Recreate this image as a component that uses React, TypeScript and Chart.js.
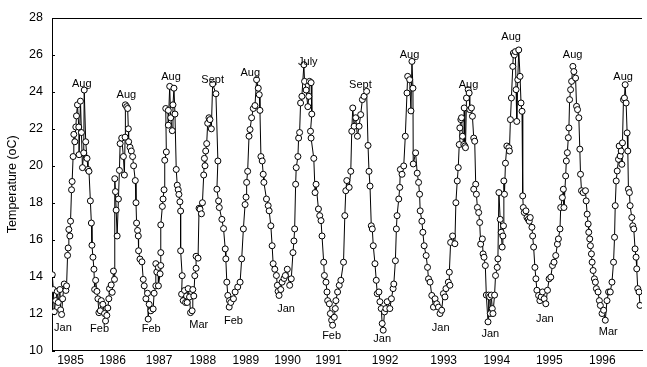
import React, { useEffect, useRef } from "react";
import { Chart, registerables } from "chart.js";

Chart.register(...registerables);

// Sampling-time index (horizontal axis units) and temperature (oC) per season
const season1985: [number, number][] = [
  [52.3, 14.1], [53.3, 13.3], [54.3, 12.1], [55.7, 12.7], [57.3, 13.2], [58.3, 12.6], [60, 13.3], [60.7, 12.2],
  [61.7, 11.95], [62.7, 12.8], [64.3, 13.6], [66, 13.25], [66.7, 13.5], [67.7, 15.15], [68.3, 15.55], [69, 16.55],
  [70, 16.2], [70.7, 17.0], [71.7, 18.7], [72.3, 19.15], [73.3, 20.5], [74, 21.7], [75, 21.3], [76, 22.1],
  [76.7, 22.7], [77.7, 23.3], [79, 22.1], [79.3, 20.6], [80.7, 23.5], [81.7, 21.8], [82.7, 19.9], [84, 20.7],
  [84.5, 24.1], [86, 21.3], [87.3, 20.4], [88.3, 19.8], [89.3, 19.7], [90.7, 18.1], [91.7, 16.9], [92.3, 15.7],
  [93.3, 15.05], [94.3, 14.4], [95, 13.3], [96, 13.8], [97.3, 13.2], [98.3, 12.8], [99.3, 12.05], [100.7, 12.15],
  [101.7, 12.7], [103.3, 12.5], [105, 12.0], [106, 11.6],
];
const season1986: [number, number][] = [
  [107.3, 11.9], [108.3, 12.3], [109.3, 12.8], [110, 13.35], [111.7, 13.55], [112.7, 13.15], [114, 14.3], [115, 13.85],
  [115.3, 19.3], [116, 18.6], [116.7, 17.6], [117.7, 16.2], [119, 18.2], [120, 19.75], [120.7, 21.2], [122.3, 21.5],
  [124, 20.5], [125, 19.5], [125.7, 21.55], [126, 23.3], [127.3, 23.2], [128.3, 23.1], [129, 22.0], [129.3, 21.3],
  [130.7, 21.0], [132, 20.8], [133.3, 20.5], [134.3, 20.0], [136, 19.2], [136.7, 18.0], [137.3, 16.9], [138.3, 16.5],
  [139, 16.2], [139.3, 15.4], [140.7, 14.95], [142.7, 14.8], [144, 13.85], [145, 13.5], [146.7, 12.8], [148.3, 13.1],
  [149, 11.7], [150, 12.5],
];
const season1987: [number, number][] = [
  [151.7, 12.15], [154, 12.25], [155, 13.1], [156.7, 13.5], [156.7, 14.7], [157.7, 14.25], [159.3, 14.5], [159.3, 13.5],
  [161, 14.15], [161.7, 14.6], [161.7, 15.3], [161.7, 16.8], [163.3, 17.8], [164, 18.2], [165, 18.7], [165.7, 20.3],
  [167.3, 20.75], [166.7, 23.1], [169.3, 23.0], [169.3, 22.2], [170.7, 24.3], [171.7, 22.6], [173.3, 21.9], [174, 23.3],
  [175, 24.2], [176, 22.8], [177.3, 19.8], [178.3, 18.95], [179.3, 18.7], [180, 18.45], [181, 18.05], [181.7, 17.55],
  [181.7, 15.4], [183.3, 14.05], [182.7, 13.05], [184.3, 12.7], [185.7, 13.25], [186.7, 12.6], [187.7, 12.95], [188.3, 12.6],
  [189.3, 13.35], [190.7, 12.9], [191.7, 12.05], [193.3, 12.15],
];
const season1988: [number, number][] = [
  [194, 13.3], [195, 12.95], [196, 14.05], [197.3, 14.45], [197.3, 15.1], [199.3, 15.0], [200.3, 17.7], [201.3, 17.65],
  [202.7, 17.4], [203.7, 18.0], [205, 19.5], [205.7, 20.4], [206.3, 20.0], [207, 20.8], [208, 21.2], [209, 22.3],
  [210.3, 22.6], [211.3, 22.5], [212.7, 22.0], [214, 24.43], [217.3, 23.9], [219.3, 20.26], [218.3, 18.73], [220, 18.1],
  [220.7, 17.74], [223.3, 17.1], [225, 16.6], [226.7, 15.5], [227.3, 14.96], [228.3, 13.7], [229.3, 12.98], [231, 12.7],
  [230.7, 12.35], [232.3, 12.6],
];
const season1989: [number, number][] = [
  [235, 12.8], [236.7, 13.17], [239.3, 13.44], [241.7, 13.7], [243.3, 14.96], [245, 16.58], [246.7, 17.9], [247.7, 18.3],
  [248.3, 19.1], [249.3, 19.7], [250.7, 21.6], [251.7, 21.96], [253.3, 22.6], [255, 23.1], [256.7, 23.26], [258.3, 24.66],
  [260, 24.2], [261, 23.85], [261.7, 23.0], [262.7, 20.5], [264, 20.26], [265, 19.54], [265.7, 19.1], [268.3, 18.2],
  [270, 17.84], [271, 17.56], [272.7, 16.75], [274, 15.67], [275, 14.7], [276.7, 14.4], [278.3, 14.06], [279.3, 13.53],
  [280, 13.2], [281, 12.98],
];
const season1990: [number, number][] = [
  [282.7, 13.3], [284, 13.7], [286, 13.9], [287.3, 14.06], [289.3, 14.4], [291.7, 13.53], [293.3, 13.88], [295, 15.3],
  [296, 15.93], [296.7, 16.58], [297.7, 19.0], [298.3, 19.9], [300, 20.5], [300.7, 21.5], [301.7, 21.8], [302.7, 23.4],
  [304, 23.76], [306, 25.47], [306.7, 24.57], [308.3, 24.1], [310, 23.2], [311, 23.76], [311.7, 24.57], [313.3, 24.5],
  [314, 22.8], [312.7, 21.87], [313.3, 21.5], [316, 20.4], [317.3, 18.55], [318.3, 19.0], [320.7, 17.66], [322, 17.3],
  [323.3, 17.03], [324.3, 16.2], [326, 14.78], [326.7, 14.06], [328.3, 13.7], [329.3, 13.17], [330, 12.7], [331.7, 12.53],
  [332.7, 12.0], [334, 11.64], [335, 11.37],
];
const season1991: [number, number][] = [
  [336.7, 11.8], [337.7, 12.27], [338.3, 12.7], [340, 13.17], [341.7, 13.53], [343.3, 13.8], [346, 14.78], [347.3, 17.3],
  [348.3, 18.65], [349.3, 19.2], [351.7, 18.83], [353.3, 19.7], [354.3, 21.87], [355.3, 23.13], [356.7, 22.14], [358.3, 22.6],
  [360, 21.6], [361.7, 22.14], [363.3, 22.77], [365, 23.58], [366.7, 23.76], [369.3, 24.03], [370.7, 21.1], [371.7, 19.7],
  [372.7, 18.9], [374, 16.75], [375, 16.58], [376, 15.67], [377.7, 14.7], [379, 13.8], [380, 13.08], [381.7, 13.17],
  [382.7, 12.64], [384, 12.27], [385, 11.46], [386, 11.1],
];
const season1992: [number, number][] = [
  [387.3, 12.09], [388.7, 12.27], [390, 12.64], [392.7, 12.27], [394.3, 12.8], [396, 13.35], [396.7, 13.6], [398.3, 14.86],
  [399.3, 16.58], [400, 17.3], [401.7, 18.2], [402.7, 18.83], [403.3, 19.8], [405, 19.54], [406.7, 19.99], [408.3, 21.6],
  [410, 23.94], [410.7, 24.84], [412.7, 24.66], [414, 22.97], [415, 25.65], [416, 24.2], [416.3, 20.1], [418.7, 20.7],
  [420.3, 19.6], [421.7, 19.1], [422.7, 18.46], [423.3, 17.56], [425, 17.0], [426, 16.4], [427.3, 15.67], [429.3, 15.14],
  [430.7, 14.5], [431.7, 13.88], [433.3, 13.7], [435, 12.98], [436.7, 12.35], [438.3, 12.8], [440, 12.53], [441.7, 12.35],
  [443.3, 12.0],
];
const season1993: [number, number][] = [
  [445, 12.18], [446.7, 13.08], [448.3, 12.9], [449.3, 13.35], [451.7, 13.7], [453.3, 13.53], [452.7, 14.24], [454, 15.85],
  [456, 16.2], [458.3, 15.78], [459.3, 18.0], [460.7, 19.18], [461.7, 19.9], [462.7, 21.15], [463.3, 22.05], [464.3, 22.5],
  [465, 22.6], [466, 21.6], [467.3, 21.15], [467.7, 23.13], [468.3, 21.07], [469, 20.98], [470, 23.67], [471.7, 24.12],
  [472.7, 23.94], [473.3, 23.04], [475, 23.13], [476, 22.68], [477.3, 21.5], [478.3, 21.33], [479.3, 19.0], [477.3, 18.73],
  [480, 18.46], [481, 17.74], [482.3, 17.47], [483.3, 16.93], [484.3, 15.76], [486, 16.04], [486.7, 15.23], [487.7, 15.05],
  [489, 14.6], [490, 13.0], [491.7, 11.55], [492.3, 13.0], [493.3, 12.9], [494, 12.0], [495, 13.0], [496, 12.27],
  [496.7, 12.0],
];
const season1994: [number, number][] = [
  [498.3, 13.0], [499.3, 14.06], [501, 14.5], [501.7, 14.96], [502.7, 18.55], [504, 17.1], [505, 16.4], [506, 15.6],
  [506.7, 16.2], [507.3, 16.75], [507.7, 19.18], [508.3, 18.46], [509.3, 20.14], [510.7, 21.07], [512.7, 20.98], [513.3, 20.8],
  [514.3, 22.5], [515.3, 23.67], [516.7, 25.38], [517.3, 26.1], [518.3, 26.0], [519.3, 26.18], [520, 24.12], [520.7, 22.4],
  [521.7, 24.66], [522.7, 26.27], [524, 24.84], [525, 23.4], [526, 22.95], [526.7, 18.37], [527.3, 17.74], [528.3, 17.47],
  [530, 17.56], [531, 17.2], [532.3, 17.1], [533.3, 17.0], [534.3, 17.2], [536, 16.67], [536.7, 16.2], [537.7, 15.6],
  [539, 14.5], [540, 13.88], [541, 13.26], [542.7, 12.98], [544, 12.7], [545.3, 12.9], [546.7, 13.17], [548.3, 12.8],
  [550, 12.53],
];
const season1995: [number, number][] = [
  [551.7, 13.26], [553.3, 13.88], [555, 13.97], [556.7, 14.6], [558.3, 14.78], [560, 15.14], [561.7, 15.76], [562.7, 16.04],
  [564.3, 16.58], [565, 17.74], [566.7, 18.28], [567.7, 18.73], [568.3, 17.74], [570, 19.45], [570.7, 20.26], [571.7, 20.71],
  [572.7, 21.52], [573.3, 22.05], [574, 23.58], [575, 24.12], [576, 24.57], [577.3, 25.38], [578.3, 25.1], [580, 24.75],
  [581, 23.22], [582, 23.04], [583.3, 22.6], [584.3, 20.9], [585, 19.54], [586, 18.65], [587.7, 18.55], [590, 18.65],
  [590.7, 18.1], [591.7, 17.38], [592.7, 16.85], [593.3, 16.4], [594.3, 16.04], [595, 15.67], [596, 15.23], [596.7, 14.78],
  [597.7, 14.33], [599, 13.88], [600, 13.7], [601, 13.35], [602.7, 13.17], [604, 12.7], [605, 12.44], [606.7, 12.0],
  [608.3, 12.18], [610, 11.64],
];
const season1996: [number, number][] = [
  [611.7, 12.7], [613.3, 13.17], [615, 13.17], [616.7, 13.7], [618.3, 14.78], [619.3, 16.13], [620, 17.84], [621, 19.18],
  [622, 19.72], [623.3, 20.35], [624, 21.07], [625, 20.53], [626, 20.8], [626.7, 20.08], [627.3, 21.24], [628.3, 23.58],
  [629.3, 23.67], [630, 24.39], [631, 23.4], [632, 21.78], [632.7, 20.8], [633.3, 18.73], [634.3, 18.55], [635, 17.84],
  [636.7, 17.2], [637.7, 16.75], [638.7, 16.58], [640, 15.5], [641, 15.05], [641.7, 14.42], [642.7, 13.35], [644, 13.17],
  [645, 12.44],
];

// Year tick labels and their positions on the time axis
const yearLabels = ["1985", "1986", "1987", "1988", "1989", "1990", "1991", "1992", "1993", "1994", "1995", "1996"];
const yearTickPos = [70.7, 113, 160, 204, 247.5, 289.5, 331, 388, 447, 500.5, 553.5, 607];

// Month annotations of seasonal extremes: text, time, temperature
const monthNames = ["Jan", "Aug", "Feb", "Aug", "Feb", "Aug", "Mar", "Sept", "Feb", "Aug", "Jan", "July",
  "Feb", "Sept", "Jan", "Aug", "Jan", "Aug", "Jan", "Aug", "Jan", "Aug", "Mar", "Aug"];
const monthTimes = [63, 82, 100, 127, 152, 172, 200, 214, 235, 252, 288, 310,
  334, 363, 385, 412.5, 444, 472, 494, 515, 549, 577, 613, 628];
const monthTemps = [11.24, 24.44, 11.14, 23.85, 11.14, 24.82, 11.4, 24.66, 11.62, 25.04, 12.27, 25.63,
  10.81, 24.39, 10.6, 26.0, 11.24, 24.39, 10.92, 26.98, 11.73, 26.0, 11.03, 24.82];

const yTicks = [10, 12, 14, 16, 18, 20, 22, 24, 26, 28];

const FONT = "'Liberation Sans', Arial, Helvetica, sans-serif";

export default function App() {
  const ref = useRef<HTMLCanvasElement | null>(null);
  useEffect(() => {
    if (!ref.current) return;
    const all = [
      ...season1985, ...season1986, ...season1987, ...season1988, ...season1989, ...season1990,
      ...season1991, ...season1992, ...season1993, ...season1994, ...season1995, ...season1996,
    ].map(([x, y]) => ({ x, y }));

    const framePlugin = {
      id: "frame",
      afterDatasetsDraw(chart: any) {
        const { ctx, chartArea, scales } = chart;
        ctx.save();
        ctx.strokeStyle = "#000";
        ctx.lineWidth = 1;
        ctx.beginPath();
        ctx.moveTo(chartArea.left, chartArea.top + 0.5);
        ctx.lineTo(chartArea.right, chartArea.top + 0.5);
        ctx.stroke();
        // inward ticks on y axis
        ctx.beginPath();
        yTicks.forEach((v) => {
          const py = Math.round(scales.y.getPixelForValue(v)) + 0.5;
          ctx.moveTo(chartArea.left, py);
          ctx.lineTo(chartArea.left + 3, py);
        });
        ctx.stroke();
        // annotations
        ctx.fillStyle = "#000";
        ctx.font = `11px ${FONT}`;
        ctx.textAlign = "center";
        ctx.textBaseline = "middle";
        monthNames.forEach((name, i) => {
          ctx.fillText(name, scales.x.getPixelForValue(monthTimes[i]), scales.y.getPixelForValue(monthTemps[i]));
        });
        ctx.restore();
      },
    };

    const chart = new Chart(ref.current, {
      type: "line",
      data: {
        datasets: [
          {
            data: all,
            borderColor: "#000",
            borderWidth: 1,
            pointRadius: 3,
            pointBackgroundColor: "#fff",
            pointBorderColor: "#000",
            pointBorderWidth: 1,
            tension: 0,
          },
        ],
      },
      options: {
        animation: false,
        responsive: false,
        layout: { padding: { top: 18, right: 0, left: 0, bottom: 0 } },
        plugins: { legend: { display: false }, tooltip: { enabled: false } },
        scales: {
          x: {
            type: "linear",
            min: 52,
            max: 647,
            grid: { display: false, drawTicks: false },
            border: { display: true, color: "#000", width: 1 },
            afterBuildTicks: (s: any) => {
              s.ticks = yearTickPos.map((v) => ({ value: v }));
            },
            afterFit: (s: any) => {
              s.height = 15;
            },
            ticks: {
              autoSkip: false,
              maxRotation: 0,
              padding: 3,
              color: "#000",
              font: { family: FONT, size: 12 },
              callback: (_v: any, i: number) => yearLabels[i],
            },
          },
          y: {
            min: 10,
            max: 28,
            grid: { display: false, drawTicks: false },
            border: { display: true, color: "#000", width: 1 },
            afterFit: (s: any) => {
              s.width = 52;
            },
            ticks: {
              stepSize: 2,
              padding: 9,
              color: "#000",
              font: { family: FONT, size: 12.5 },
            },
            title: {
              display: true,
              text: "Temperature (oC)",
              color: "#000",
              font: { family: FONT, size: 12.5 },
              padding: { top: 5, bottom: 0 },
            },
          },
        },
      },
      plugins: [framePlugin],
    } as any);
    return () => chart.destroy();
  }, []);
  return (
    <div style={{ position: "absolute", left: 0, top: 0, width: 647, height: 367, background: "#fff" }}>
      <canvas ref={ref} width={647} height={367} />
    </div>
  );
}
